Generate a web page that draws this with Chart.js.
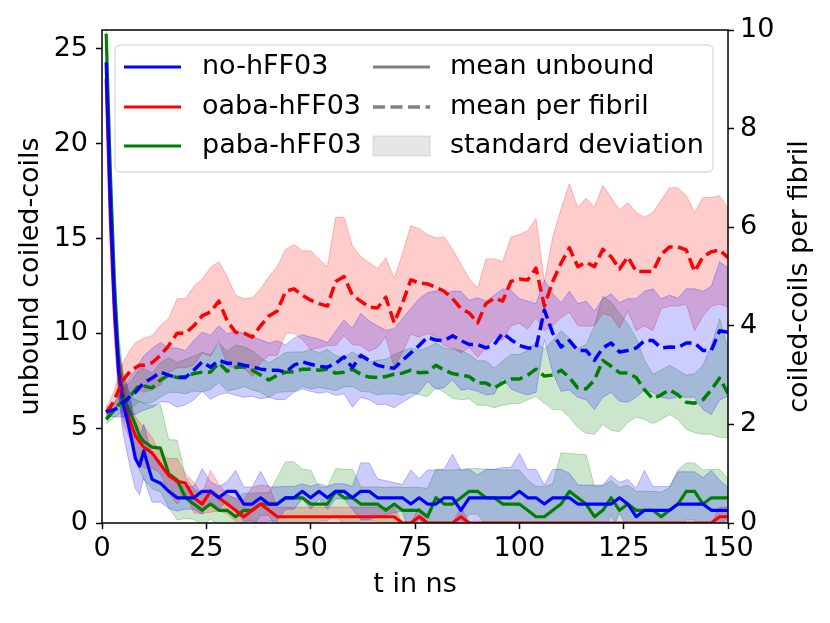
<!DOCTYPE html>
<html>
<head>
<meta charset="utf-8">
<script src="https://cdn.jsdelivr.net/npm/chart.js@4.4.0/dist/chart.umd.min.js"></script>
<style>
  body { margin: 0; background: #fff; }
</style>
</head>
<body>
<canvas id="coils" width="830" height="623"></canvas>
<script>
// time in ns
const times = [1, 2, 3, 4, 5, 6, 7, 8, 9, 10,
	12, 14, 16, 18, 20, 22, 24, 26, 28, 30,
	32, 34, 36, 38, 40, 42, 44, 46, 48, 50,
	52, 54, 56, 58, 60, 62, 64, 66, 68, 70,
	72, 74, 76, 78, 80, 82, 84, 86, 88, 90,
	92, 94, 96, 98, 100, 102, 104, 106, 108, 110,
	112, 114, 116, 118, 120, 122, 124, 126, 128, 130,
	132, 134, 136, 138, 140, 142, 144, 146, 148, 150]

// unbound coiled-coils (left axis)
const noUnbound = [24.3, 17.0, 11.5, 8.0, 6.3, 5.5, 4.5, 3.4, 3.0, 3.8,
	2.3, 2.1, 1.67, 1.33, 1.33, 1.33, 1.67, 1.67, 1.33, 1.67,
	1.67, 1.0, 1.0, 1.33, 1.0, 1.0, 1.33, 1.33, 1.67, 1.33,
	1.67, 1.33, 1.67, 1.67, 1.33, 1.67, 1.67, 1.33, 1.33, 1.33,
	1.33, 1.0, 1.33, 1.0, 1.0, 1.33, 1.33, 0.67, 1.33, 1.33,
	1.33, 1.33, 1.33, 1.33, 1.67, 1.33, 1.33, 1.0, 1.33, 1.33,
	1.33, 1.0, 1.0, 1.0, 1.0, 1.0, 1.33, 1.0, 0.33, 0.67,
	0.67, 0.67, 0.67, 1.0, 1.0, 1.0, 1.0, 0.67, 0.67, 0.67]
const noUnboundSd = [1.0, 1.5, 1.5, 1.3, 1.5, 1.8, 1.8, 1.6, 1.5, 1.4,
	1.2, 1.0, 0.9, 0.7, 0.6, 0.6, 1.2, 0.5, 0.6, 0.5,
	1.1, 0.9, 0.9, 1.4, 0.9, 0.9, 0.6, 0.6, 0.4, 0.6,
	0.4, 0.6, 0.4, 0.4, 0.6, 1.5, 1.5, 1.0, 0.9, 0.8,
	0.7, 1.8, 1.0, 1.8, 1.8, 1.5, 2.3, 2.1, 1.5, 1.2,
	1.5, 1.5, 1.6, 1.6, 2.0, 1.5, 1.5, 1.0, 1.5, 1.5,
	1.3, 1.0, 1.0, 1.0, 1.0, 1.5, 0.8, 1.3, 1.5, 2.1,
	1.25, 1.25, 1.25, 1.7, 1.7, 1.7, 1.4, 2.1, 1.6, 1.2]

const oabaUnbound = [23.4, 16.0, 11.0, 8.0, 6.5, 5.8, 5.2, 4.6, 4.3, 4.0,
	3.7, 3.1, 2.5, 2.2, 2.1, 1.33, 1.0, 1.67, 1.33, 1.0,
	0.67, 0.33, 0.67, 1.0, 0.67, 0.33, 0.33, 0.33, 0.33, 0.33,
	0.33, 0.33, 0.33, 0.33, 0.33, 0.33, 0.33, 0.33, 0.33, 0.33,
	0, 0, 0.33, 0, 0, 0, 0, 0.33, 0, 0,
	0, 0, 0, 0, 0, 0, 0, 0, 0, 0,
	0, 0, 0, 0, 0, 0, 0, 0, 0, 0,
	0, 0, 0, 0, 0, 0, 0, 0, 0.33, 0.33]
const oabaUnboundSd = [1.0, 1.5, 1.5, 1.3, 1.2, 1.0, 1.0, 1.0, 1.0, 1.1,
	0.8, 0.5, 0.9, 1.2, 0.5, 0.8, 0.5, 1.1, 0.7, 0.5,
	0.6, 0.9, 1.2, 1.0, 1.3, 0.5, 0.5, 0.5, 0.5, 0.5,
	0.5, 0.5, 0.5, 0.5, 0.5, 0.5, 0.5, 0.5, 0.5, 0.5,
	0, 0, 0.5, 0, 0, 0, 0, 0.5, 0, 0,
	0, 0, 0, 0, 0, 0, 0, 0, 0, 0,
	0, 0, 0, 0, 0, 0, 0, 0, 0, 0,
	0, 0, 0, 0, 0, 0, 0, 0, 0.5, 0.5]

const pabaUnbound = [25.8, 18.5, 12.5, 8.5, 6.8, 6.2, 5.7, 5.2, 4.6, 4.3,
	4.0, 3.95, 2.6, 2.27, 1.33, 1.0, 0.67, 1.0, 0.67, 0.67,
	0.33, 0.67, 0.67, 1.0, 1.0, 1.0, 1.33, 1.33, 1.33, 1.0,
	1.0, 1.0, 1.67, 1.33, 1.33, 1.0, 1.0, 1.0, 0.67, 1.0,
	0.67, 0.67, 0.67, 0.33, 1.33, 1.0, 1.0, 1.33, 1.67, 1.67,
	1.33, 1.33, 1.0, 1.0, 1.0, 0.67, 0.33, 0.33, 0.67, 1.0,
	1.67, 1.33, 1.0, 0.33, 0.67, 1.33, 0.67, 1.0, 0.67, 0.67,
	0.67, 0.33, 0.67, 1.0, 1.67, 1.67, 1.0, 1.33, 1.33, 1.33]
const pabaUnboundSd = [0.5, 1.0, 1.5, 1.5, 1.2, 1.0, 0.9, 1.3, 1.8, 2.0,
	2.2, 2.3, 1.8, 2.1, 1.1, 0.8, 0.8, 0.8, 0.8, 0.8,
	1.0, 0.9, 0.9, 0.6, 0.6, 1.4, 1.9, 1.9, 1.5, 1.8,
	0.9, 0.9, 1.2, 1.5, 1.5, 0.9, 0.9, 0.9, 1.2, 0.9,
	1.2, 1.2, 1.2, 1.5, 1.5, 1.8, 1.8, 1.5, 1.2, 1.2,
	1.5, 1.5, 1.8, 1.8, 1.8, 1.6, 1.6, 1.6, 1.4, 2.7,
	2.0, 2.3, 2.6, 1.6, 1.3, 0.9, 1.2, 1.0, 1.0, 1.0,
	1.0, 1.3, 1.2, 1.8, 1.5, 1.5, 1.8, 1.5, 1.5, 1.0]

// coiled-coils per fibril (right axis)
const noFibril = [2.25, 2.28, 2.3, 2.35, 2.45, 2.5, 2.6, 2.65, 2.75, 2.84,
	2.94, 3.06, 3.0, 2.95, 2.95, 3.1, 3.27, 3.16, 3.3, 3.24,
	3.24, 3.2, 3.17, 3.12, 3.1, 3.1, 3.06, 3.2, 3.27, 3.22,
	3.18, 3.16, 3.24, 3.37, 3.15, 3.4, 3.3, 3.2, 3.16, 3.14,
	3.3, 3.45, 3.6, 3.77, 3.71, 3.7, 3.8, 3.7, 3.62, 3.62,
	3.55, 3.62, 3.85, 3.72, 3.6, 3.55, 3.55, 4.32, 3.85, 3.57,
	3.7, 3.5, 3.5, 3.3, 3.55, 3.65, 3.47, 3.5, 3.55, 3.7,
	3.7, 3.55, 3.57, 3.56, 3.65, 3.65, 3.5, 3.5, 3.9, 3.87]
const noFibrilSd = [0.1, 0.12, 0.15, 0.2, 0.3, 0.35, 0.4, 0.45, 0.5, 0.55,
	0.6, 0.6, 0.55, 0.6, 0.55, 0.6, 0.6, 0.65, 0.7, 0.6,
	0.65, 0.65, 0.6, 0.6, 0.55, 0.6, 0.55, 0.55, 0.55, 0.55,
	0.55, 0.5, 0.65, 0.75, 0.8, 0.85, 0.8, 0.8, 0.75, 0.8,
	0.85, 0.9, 0.95, 0.9, 1.0, 0.95, 0.9, 1.0, 0.9, 0.95,
	0.95, 1.0, 0.9, 1.0, 0.95, 0.95, 0.9, 0.6, 0.8, 0.9,
	1.0, 0.95, 1.0, 1.0, 1.0, 1.0, 1.0, 1.05, 1.0, 1.0,
	1.05, 1.0, 1.05, 1.0, 1.1, 1.1, 1.2, 1.3, 1.4, 1.3]

const oabaFibril = [2.25, 2.35, 2.5, 2.7, 2.9, 3.0, 3.1, 3.15, 3.2, 3.2,
	3.25, 3.4, 3.6, 3.85, 3.85, 4.0, 4.2, 4.28, 4.5, 4.1,
	3.87, 3.85, 3.77, 4.0, 4.2, 4.3, 4.7, 4.75, 4.62, 4.52,
	4.45, 4.4, 4.9, 5.0, 4.62, 4.5, 4.38, 4.36, 4.58, 4.06,
	4.46, 4.93, 4.87, 4.85, 4.78, 4.7, 4.55, 4.35, 4.26, 4.06,
	4.45, 4.56, 4.5, 4.9, 4.95, 4.93, 5.17, 4.4, 4.9, 5.27,
	5.58, 5.2, 5.29, 5.2, 5.55, 5.4, 5.15, 5.4, 5.1, 5.1,
	5.1, 5.45, 5.6, 5.6, 5.54, 5.1, 5.4, 5.5, 5.54, 5.38]
const oabaFibrilSd = [0.1, 0.15, 0.2, 0.3, 0.35, 0.4, 0.45, 0.5, 0.5, 0.55,
	0.55, 0.6, 0.55, 0.7, 0.7, 0.8, 0.75, 0.9, 0.8, 0.9,
	0.75, 0.7, 0.8, 0.75, 0.8, 0.9, 0.85, 0.9, 0.9, 1.0,
	0.9, 0.8, 1.3, 1.2, 1.0, 0.9, 0.9, 0.8, 0.8, 0.9,
	1.0, 1.1, 1.1, 1.0, 1.0, 1.1, 1.0, 0.9, 0.7, 0.7,
	0.9, 0.8, 0.8, 0.9, 0.9, 1.0, 1.0, 0.5, 0.9, 1.1,
	1.3, 1.2, 1.3, 1.2, 1.3, 1.2, 1.2, 1.1, 1.2, 1.1,
	1.2, 1.1, 1.2, 1.2, 1.1, 1.2, 1.2, 1.1, 1.1, 1.0]

const pabaFibril = [2.1, 2.2, 2.3, 2.4, 2.48, 2.55, 2.6, 2.7, 2.8, 2.78,
	2.74, 2.9, 3.0, 2.95, 2.97, 3.03, 3.06, 3.06, 3.25, 3.08,
	3.16, 3.17, 3.1, 3.0, 2.9, 3.0, 3.06, 3.07, 3.12, 3.12,
	3.1, 3.12, 3.04, 3.06, 3.12, 3.02, 2.96, 2.95, 2.97, 3.02,
	3.04, 3.1, 3.05, 3.06, 3.2, 3.1, 3.03, 3.0, 2.97, 2.84,
	2.84, 2.74, 2.84, 2.92, 2.92, 3.0, 3.12, 2.98, 3.0, 3.1,
	2.95, 2.74, 2.72, 2.9, 3.3, 3.18, 3.05, 3.04, 2.95, 2.7,
	2.52, 2.6, 2.7, 2.6, 2.45, 2.43, 2.5, 2.7, 2.94, 2.63]
const pabaFibrilSd = [0.1, 0.12, 0.15, 0.2, 0.22, 0.25, 0.28, 0.3, 0.33, 0.35,
	0.3, 0.35, 0.35, 0.3, 0.35, 0.35, 0.4, 0.35, 0.4, 0.4,
	0.45, 0.4, 0.4, 0.35, 0.35, 0.35, 0.4, 0.4, 0.35, 0.4,
	0.35, 0.4, 0.35, 0.3, 0.35, 0.35, 0.3, 0.35, 0.35, 0.4,
	0.45, 0.45, 0.45, 0.5, 0.45, 0.45, 0.5, 0.5, 0.45, 0.45,
	0.45, 0.4, 0.45, 0.5, 0.5, 0.5, 0.55, 0.55, 0.7, 0.8,
	0.8, 0.8, 0.9, 1.1, 1.3, 1.3, 1.2, 1.0, 0.8, 0.6,
	0.5, 0.5, 0.5, 0.5, 0.55, 0.6, 0.7, 0.9, 1.2, 0.9]

const systemNames = ["no-hFF03", "oaba-hFF03", "paba-hFF03"]
const styleNames = ["mean unbound", "mean per fibril", "standard deviation"]
const systemColors = ["0, 0, 255", "255, 0, 0", "0, 128, 0"]
const rightTitle = "coiled-coils per fibril"

const unboundSets = [noUnbound, oabaUnbound, pabaUnbound]
const unboundSds = [noUnboundSd, oabaUnboundSd, pabaUnboundSd]
const fibrilSets = [noFibril, oabaFibril, pabaFibril]
const fibrilSds = [noFibrilSd, oabaFibrilSd, pabaFibrilSd]

const font = { family: "'DejaVu Sans'", size: 27 }
const dash = [12, 5.5]

const toPoints = values => times.map((t, i) => ({ x: t, y: values[i] }))

const datasets = []

// mean line + shaded mean +/- sd band
function addSeries(mean, sd, axis, color, lineDash, lineOrder) {
	const lowerIndex = datasets.length
	datasets.push({
		data: toPoints(mean.map((m, i) => m - sd[i])),
		yAxisID: axis,
		borderColor: `rgba(${color}, 0.25)`,
		borderWidth: 1,
		pointRadius: 0,
		fill: false,
		order: lineOrder + 1
	})
	datasets.push({
		data: toPoints(mean.map((m, i) => m + sd[i])),
		yAxisID: axis,
		borderColor: `rgba(${color}, 0.25)`,
		backgroundColor: `rgba(${color}, 0.2)`,
		borderWidth: 1,
		pointRadius: 0,
		fill: { target: lowerIndex },
		order: lineOrder + 1
	})
	datasets.push({
		data: toPoints(mean),
		yAxisID: axis,
		borderColor: `rgb(${color})`,
		borderWidth: lineDash.length ? 3.5 : 3.2,
		borderDash: lineDash,
		borderJoinStyle: 'round',
		pointRadius: 0,
		fill: false,
		order: lineOrder
	})
}

systemColors.forEach((c, i) => addSeries(fibrilSets[i], fibrilSds[i], 'y2', c, dash, 0))
systemColors.forEach((c, i) => addSeries(unboundSets[i], unboundSds[i], 'y', c, [], 2))

const tickGrid = {
	display: true,
	drawOnChartArea: false,
	drawTicks: true,
	tickLength: 6,
	tickWidth: 1.5,
	color: '#000'
}

const framePlugin = {
	id: 'frameAndLegend',
	afterDraw(chart) {
		const { ctx, chartArea } = chart
		ctx.save()
		ctx.strokeStyle = '#000'
		ctx.lineWidth = 1.5
		ctx.strokeRect(chartArea.left, chartArea.top, chartArea.right - chartArea.left, chartArea.bottom - chartArea.top)

		// right axis title, reading bottom to top like the left one
		ctx.save()
		ctx.translate(800, (chartArea.top + chartArea.bottom) / 2)
		ctx.rotate(-Math.PI / 2)
		ctx.font = "27px 'DejaVu Sans'"
		ctx.textAlign = 'center'
		ctx.textBaseline = 'middle'
		ctx.fillStyle = '#000'
		ctx.fillText(rightTitle, 0, 0)
		ctx.restore()

		// legend box, two columns
		const left = chartArea.left + 13
		const top = chartArea.top + 15
		const w = 598, h = 127, r = 5
		ctx.beginPath()
		ctx.moveTo(left + r, top)
		ctx.arcTo(left + w, top, left + w, top + h, r)
		ctx.arcTo(left + w, top + h, left, top + h, r)
		ctx.arcTo(left, top + h, left, top, r)
		ctx.arcTo(left, top, left + w, top, r)
		ctx.closePath()
		ctx.fillStyle = 'rgba(255, 255, 255, 0.8)'
		ctx.fill()
		ctx.strokeStyle = '#cccccc'
		ctx.lineWidth = 1
		ctx.stroke()

		ctx.font = "27px 'DejaVu Sans'"
		ctx.textBaseline = 'middle'
		ctx.fillStyle = '#000'
		const rows = [top + 22, top + 62, top + 101]
		rows.forEach((y, i) => {
			// column 1: systems
			ctx.setLineDash([])
			ctx.strokeStyle = `rgb(${systemColors[i]})`
			ctx.lineWidth = 3.2
			ctx.beginPath()
			ctx.moveTo(left + 9, y)
			ctx.lineTo(left + 66, y)
			ctx.stroke()
			ctx.fillText(systemNames[i], left + 87, y)

			// column 2: styles
			const hx = left + 258
			ctx.strokeStyle = 'rgb(128, 128, 128)'
			if (i === 2) {
				ctx.fillStyle = 'rgba(128, 128, 128, 0.2)'
				ctx.fillRect(hx, y - 10, 57, 20)
				ctx.strokeStyle = 'rgba(128, 128, 128, 0.25)'
				ctx.lineWidth = 1
				ctx.strokeRect(hx, y - 10, 57, 20)
				ctx.fillStyle = '#000'
			} else {
				ctx.setLineDash(i === 1 ? dash : [])
				ctx.lineWidth = i === 1 ? 3.5 : 3.2
				ctx.beginPath()
				ctx.moveTo(hx, y)
				ctx.lineTo(hx + 57, y)
				ctx.stroke()
				ctx.setLineDash([])
			}
			ctx.fillText(styleNames[i], left + 335, y)
		})
		ctx.restore()
	}
}

new Chart(document.getElementById("coils"), {
	type: 'line',
	data: { datasets },
	plugins: [framePlugin],
	options: {
		responsive: false,
		animation: false,
		devicePixelRatio: 1,
		layout: { padding: { top: 30, left: 0, right: 0, bottom: 0 } },
		plugins: {
			legend: { display: false },
			tooltip: { enabled: false }
		},
		scales: {
			x: {
				type: 'linear',
				min: 0,
				max: 150,
				ticks: { stepSize: 25, font, color: '#000', padding: 4, maxRotation: 0 },
				grid: tickGrid,
				border: { display: false },
				title: { display: true, text: 't in ns', font, color: '#000', padding: { top: 0, bottom: 22 } },
				afterFit: scale => { scale.height = 100 }
			},
			y: {
				position: 'left',
				min: 0,
				max: 26,
				ticks: { stepSize: 5, includeBounds: false, font, color: '#000', padding: 8 },
				afterBuildTicks: scale => { scale.ticks = scale.ticks.filter(t => t.value % 5 === 0) },
				grid: tickGrid,
				border: { display: false },
				title: { display: true, text: 'unbound coiled-coils', font, color: '#000', padding: { top: 15, bottom: 0 } },
				afterFit: scale => { scale.width = 102 }
			},
			y2: {
				position: 'right',
				min: 0,
				max: 10,
				ticks: { stepSize: 2, font, color: '#000', padding: 6 },
				grid: tickGrid,
				border: { display: false },
				afterFit: scale => { scale.width = 102 }
			}
		}
	}
})
</script>
</body>
</html>
